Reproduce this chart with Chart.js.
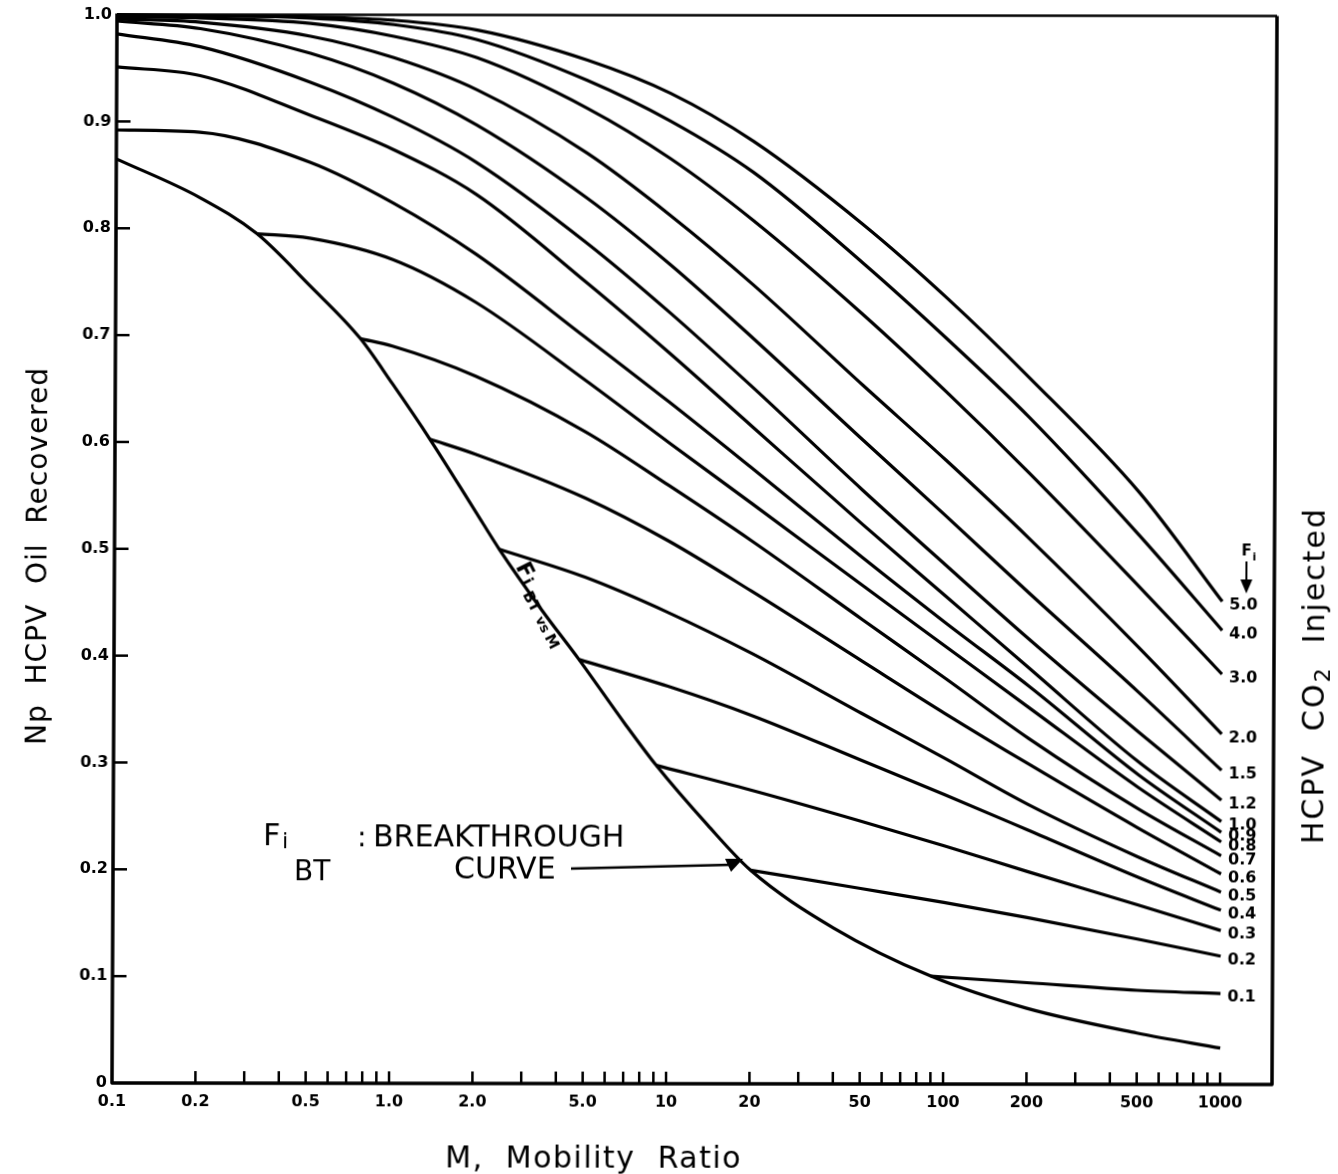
<!DOCTYPE html>
<html>
<head>
<meta charset="utf-8">
<title>Np vs mobility ratio</title>
<script src="https://cdn.jsdelivr.net/npm/chart.js@4.4.0/dist/chart.umd.min.js"></script>
<style>
  html, body { margin: 0; padding: 0; background: #fff; }
  #wrap { position: relative; width: 1338px; height: 1174px; }
  /* the sheet sits slightly askew */
  #chart { transform-origin: 112px 1083px; transform: matrix(1, 0.0013, -0.0047, 1, 0, 0); }
</style>
</head>
<body>
<div id="wrap"><canvas id="chart"></canvas></div>
<script>
// axis ticks
var mTicks = [0.1, 0.2, 0.5, 1, 2, 5, 10, 20, 50, 100, 200, 500, 1000];
var mTickLabels = ['0.1', '0.2', '0.5', '1.0', '2.0', '5.0', '10', '20', '50', '100', '200', '500', '1000'];
var npTicks = [0, 0.1, 0.2, 0.3, 0.4, 0.5, 0.6, 0.7, 0.8, 0.9, 1.0];

// breakthrough curve (Fi BT vs M)
var mBT  = [0.1, 0.2, 0.323, 0.5, 0.766, 1, 1.37, 2, 2.45, 3.5, 4.77, 7, 9.1, 14, 20, 40, 90, 200, 500, 1000];
var npBT = [0.865, 0.829, 0.795, 0.747, 0.697, 0.655, 0.603, 0.536, 0.50, 0.443, 0.397, 0.337, 0.298, 0.242, 0.20, 0.146, 0.101, 0.071, 0.048, 0.034];

// HCPV CO2 injected curves that start at M = 0.1
var mFull = [0.1, 0.2, 0.5, 1, 2, 5, 10, 20, 50, 100, 200, 500, 1000];
var np50 = [1.0, 0.999, 0.998, 0.995, 0.986, 0.958, 0.927, 0.882, 0.804, 0.736, 0.661, 0.554, 0.452];
var np40 = [0.999, 0.999, 0.997, 0.991, 0.977, 0.939, 0.901, 0.853, 0.768, 0.698, 0.624, 0.514, 0.425];
var np30 = [0.998, 0.997, 0.992, 0.980, 0.960, 0.913, 0.866, 0.808, 0.720, 0.648, 0.572, 0.466, 0.384];
var np20 = [0.996, 0.993, 0.980, 0.960, 0.930, 0.871, 0.813, 0.748, 0.654, 0.584, 0.511, 0.409, 0.328];
var np15 = [0.994, 0.987, 0.964, 0.936, 0.897, 0.829, 0.767, 0.698, 0.603, 0.532, 0.460, 0.367, 0.294];
var np12 = [0.982, 0.970, 0.937, 0.904, 0.862, 0.787, 0.722, 0.652, 0.556, 0.486, 0.417, 0.330, 0.266];
var np10 = [0.951, 0.943, 0.906, 0.874, 0.832, 0.750, 0.684, 0.615, 0.524, 0.457, 0.390, 0.302, 0.246];
var np09 = [0.892, 0.890, 0.862, 0.824, 0.776, 0.698, 0.638, 0.576, 0.493, 0.432, 0.373, 0.290, 0.236];

// curves that branch off the breakthrough curve
var m08  = [0.323, 0.5, 1, 2, 5, 10, 20, 50, 100, 200, 500, 1000];
var np08 = [0.795, 0.791, 0.771, 0.731, 0.658, 0.600, 0.543, 0.467, 0.410, 0.353, 0.278, 0.227];
var m07  = [0.766, 1, 2, 5, 10, 20, 50, 100, 200, 500, 1000];
var np07 = [0.697, 0.690, 0.662, 0.610, 0.560, 0.508, 0.435, 0.380, 0.324, 0.258, 0.214];
var m06  = [1.37, 2, 5, 10, 20, 50, 100, 200, 500, 1000];
var np06 = [0.603, 0.589, 0.548, 0.508, 0.461, 0.396, 0.347, 0.300, 0.240, 0.197];
var m05  = [2.45, 5, 10, 20, 50, 100, 200, 500, 1000];
var np05 = [0.50, 0.474, 0.441, 0.403, 0.347, 0.305, 0.262, 0.213, 0.180];
var m04  = [4.77, 10, 20, 50, 100, 200, 500, 1000];
var np04 = [0.397, 0.372, 0.345, 0.303, 0.271, 0.238, 0.194, 0.163];
var m03  = [9.1, 20, 50, 100, 200, 500, 1000];
var np03 = [0.298, 0.275, 0.246, 0.223, 0.199, 0.168, 0.144];
var m02  = [20, 50, 100, 200, 500, 1000];
var np02 = [0.20, 0.183, 0.170, 0.156, 0.136, 0.120];
var m01  = [90, 200, 500, 1000];
var np01 = [0.101, 0.095, 0.088, 0.085];

var fiNames = ['5.0', '4.0', '3.0', '2.0', '1.5', '1.2', '1.0', '0.9', '0.8', '0.7', '0.6', '0.5', '0.4', '0.3', '0.2', '0.1'];
var fiM  = [mFull, mFull, mFull, mFull, mFull, mFull, mFull, mFull, m08, m07, m06, m05, m04, m03, m02, m01];
var fiNp = [np50, np40, np30, np20, np15, np12, np10, np09, np08, np07, np06, np05, np04, np03, np02, np01];

function pts(xs, ys) {
    return xs.map(function (v, i) { return { x: v, y: ys[i] }; });
}

var datasets = [{ label: 'BT', data: pts(mBT, npBT) }];
fiNames.forEach(function (name, i) {
    datasets.push({ label: name, data: pts(fiM[i], fiNp[i]) });
});

// minor tick marks on the log axis
var mMinor = [];
[0.1, 1, 10, 100].forEach(function (d) {
    for (var k = 2; k <= 10; k++) mMinor.push(d * k);
});

var FONT = '"DejaVu Sans", sans-serif';

function seg(ctx, x1, y1, x2, y2) {
    ctx.beginPath(); ctx.moveTo(x1, y1); ctx.lineTo(x2, y2); ctx.stroke();
}

var paper = {
    id: 'paper',
    afterDraw: function (chart) {
        var ctx = chart.ctx, a = chart.chartArea;
        var xs = chart.scales.x, ys = chart.scales.y;
        ctx.save();
        ctx.strokeStyle = '#000';
        ctx.fillStyle = '#000';

        // frame
        ctx.lineWidth = 3.5;
        ctx.lineJoin = 'round';
        ctx.beginPath();
        ctx.moveTo(a.left, a.top - 1);
        ctx.lineTo(a.left, a.bottom);
        ctx.lineTo(a.right, a.bottom);
        ctx.lineTo(a.right, a.top);
        ctx.stroke();
        ctx.lineWidth = 2.5;
        seg(ctx, a.left, a.top, a.right, a.top);

        // inside ticks
        ctx.lineWidth = 2.5;
        npTicks.forEach(function (v) {
            if (v <= 0 || v >= 1) return;
            var y = ys.getPixelForValue(v);
            seg(ctx, a.left, y, a.left + 14, y);
        });
        mMinor.forEach(function (v) {
            var x = xs.getPixelForValue(v);
            seg(ctx, x, a.bottom, x, a.bottom - 12);
        });

        // Fi labels at the right end of each curve
        ctx.font = 'bold 16px ' + FONT;
        ctx.textBaseline = 'middle';
        ctx.textAlign = 'left';
        chart.data.datasets.forEach(function (ds, i) {
            if (i === 0) return;
            var meta = chart.getDatasetMeta(i);
            var p = meta.data[meta.data.length - 1];
            ctx.fillText(ds.label, p.x + 7, p.y + 4);
        });

        // Fi with arrow above the labels
        ctx.font = 'bold 15px ' + FONT;
        ctx.fillText('F', 1239, 550);
        ctx.font = 'bold 11px ' + FONT;
        ctx.fillText('i', 1250, 556);
        ctx.lineWidth = 2;
        seg(ctx, 1244, 560, 1244, 586);
        ctx.beginPath();
        ctx.moveTo(1238, 578); ctx.lineTo(1244, 592); ctx.lineTo(1250, 578);
        ctx.closePath(); ctx.fill();

        // label along the breakthrough curve
        ctx.save();
        ctx.translate(513, 566);
        ctx.rotate(63 * Math.PI / 180);
        ctx.textBaseline = 'alphabetic';
        ctx.font = 'bold 22px ' + FONT;
        ctx.fillText('F', 0, 0);
        ctx.font = 'bold 16px ' + FONT;
        ctx.fillText('i', 16, 1);
        ctx.font = 'bold 15px ' + FONT;
        ctx.fillText('BT', 28, 6);
        ctx.font = 'bold 13px ' + FONT;
        ctx.fillText('vs', 56, 6);
        ctx.font = 'bold 15px ' + FONT;
        ctx.fillText('M', 76, 6);
        ctx.restore();

        // breakthrough note with arrow
        ctx.textBaseline = 'alphabetic';
        ctx.font = '30px ' + FONT;
        ctx.fillText('F', 262, 845);
        ctx.font = '22px ' + FONT;
        ctx.fillText('i', 281, 848);
        ctx.font = '28px ' + FONT;
        ctx.fillText('BT', 293, 880);
        ctx.fillText(':', 356, 846);
        ctx.font = '30px ' + FONT;
        ctx.fillText('BREAKTHROUGH', 372, 846);
        ctx.fillText('CURVE', 453, 878);
        ctx.lineWidth = 2.5;
        seg(ctx, 570, 868, 730, 864);
        ctx.beginPath();
        ctx.moveTo(742, 858); ctx.lineTo(724, 858); ctx.lineTo(730, 871);
        ctx.closePath(); ctx.fill();

        // axis titles
        ctx.textAlign = 'center';
        ctx.textBaseline = 'alphabetic';
        ctx.font = '30px ' + FONT;
        ctx.letterSpacing = '1.5px';
        ctx.fillText('M,  Mobility  Ratio', 594, 1167);

        ctx.save();
        ctx.translate(44, 556);
        ctx.rotate(-Math.PI / 2);
        ctx.letterSpacing = '1px';
        ctx.font = '28px ' + FONT;
        ctx.fillText('Np  HCPV  Oil  Recovered', 0, 0);
        ctx.restore();

        ctx.save();
        ctx.translate(1322, 674);
        ctx.rotate(-Math.PI / 2);
        ctx.letterSpacing = '2px';
        ctx.font = '30px ' + FONT;
        var t1 = 'HCPV  CO', t3 = '  Injected';
        ctx.textAlign = 'left';
        var w1 = ctx.measureText(t1).width, w3 = ctx.measureText(t3).width;
        ctx.font = '22px ' + FONT;
        var w2 = ctx.measureText('2').width;
        var x0 = -(w1 + w2 + w3) / 2;
        ctx.font = '30px ' + FONT;
        ctx.fillText(t1, x0, 0);
        ctx.font = '22px ' + FONT;
        ctx.fillText('2', x0 + w1, 6);
        ctx.font = '30px ' + FONT;
        ctx.fillText(t3, x0 + w1 + w2, 0);
        ctx.restore();

        ctx.restore();
    }
};

new Chart(document.getElementById('chart'), {
    type: 'line',
    data: { datasets: datasets },
    options: {
        responsive: true,
        maintainAspectRatio: false,
        animation: false,
        layout: { padding: { top: 12, right: 66, left: 0, bottom: 0 } },
        plugins: {
            legend: { display: false },
            tooltip: { enabled: false }
        },
        elements: {
            point: { radius: 0 },
            line: { borderWidth: 3.2, borderColor: '#000', cubicInterpolationMode: 'monotone', fill: false }
        },
        datasets: { line: { clip: 6 } },
        scales: {
            x: {
                type: 'logarithmic',
                min: 0.1,
                max: 1540,
                grid: { display: false, drawTicks: false },
                border: { display: false },
                afterBuildTicks: function (s) { s.ticks = mTicks.map(function (v) { return { value: v }; }); },
                afterFit: function (s) { s.height = 91; },
                ticks: {
                    autoSkip: false,
                    maxRotation: 0,
                    padding: 9,
                    color: '#000',
                    font: { family: 'DejaVu Sans', weight: 'bold', size: 16 },
                    callback: function (v, i) { return mTickLabels[i]; }
                }
            },
            y: {
                type: 'linear',
                min: 0,
                max: 1,
                grid: { display: false, drawTicks: false },
                border: { display: false },
                afterBuildTicks: function (s) { s.ticks = npTicks.map(function (v) { return { value: v }; }); },
                afterFit: function (s) { s.width = 112; },
                ticks: {
                    padding: 5,
                    color: '#000',
                    font: { family: 'DejaVu Sans', weight: 'bold', size: 16 },
                    callback: function (v) { return v === 0 ? '0' : v.toFixed(1); }
                }
            }
        }
    },
    plugins: [paper]
});
</script>
</body>
</html>
